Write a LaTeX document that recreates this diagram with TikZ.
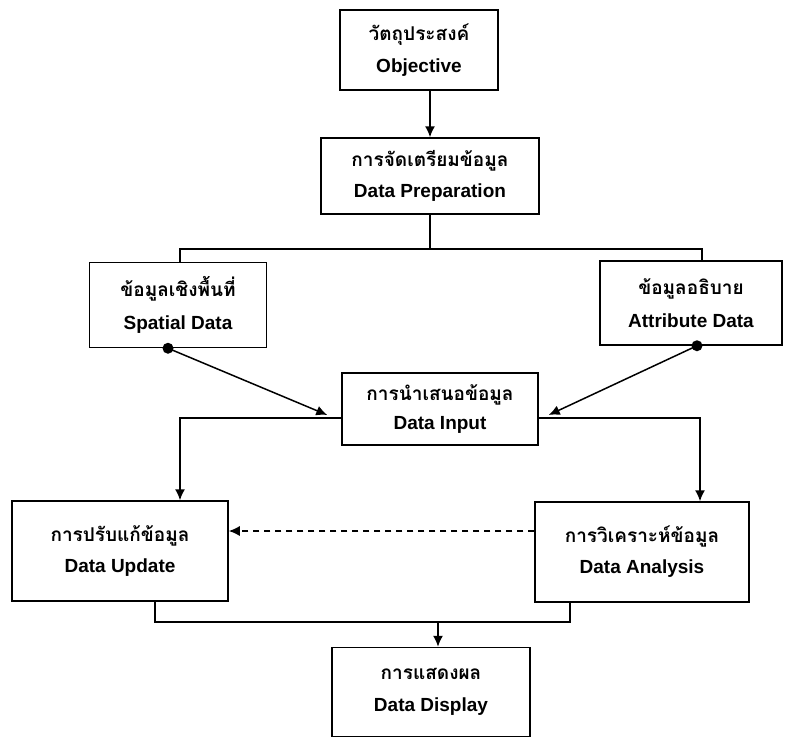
\documentclass[tikz,border=0pt]{standalone}
\usepackage{fontspec}
\setmainfont{Liberation Sans}
\newfontfamily\thai[Script=Thai]{Loma}
\usetikzlibrary{arrows.meta}

\tikzset{
  box/.style={draw, line width=1.5pt, align=center, inner sep=0pt,
    font=\fontsize{19}{22}\selectfont\bfseries},
  arr/.style={line width=1.5pt, -{Latex[length=11pt,width=10pt]}},
  link/.style={line width=1.5pt}
}

\begin{document}
\begin{tikzpicture}[x=1pt,y=-1pt]
\useasboundingbox (0,0) rectangle (804,739);

\node[box, minimum width=158pt, minimum height=80pt] (obj) at (419,50) {{\thai วัตถุประสงค์}\\[10pt]Objective};
\node[box, minimum width=218pt, minimum height=76pt] (prep) at (430,176) {{\thai การจัดเตรียมข้อมูล}\\[9pt]Data Preparation};
\node[box, minimum width=177pt, minimum height=85pt] (spat) at (178,305) {{\thai ข้อมูลเชิงพื้นที่}\\[11pt]Spatial Data};
\node[box, minimum width=182pt, minimum height=84pt] (attr) at (691,303) {{\thai ข้อมูลอธิบาย}\\[11pt]Attribute Data};
\node[box, minimum width=196pt, minimum height=72pt] (input) at (440,409) {{\thai การนำเสนอข้อมูล}\\[7pt]Data Input};
\node[box, minimum width=216pt, minimum height=100pt] (upd) at (120,551) {{\thai การปรับแก้ข้อมูล}\\[9pt]Data Update};
\node[box, minimum width=214pt, minimum height=100pt] (ana) at (642,552) {{\thai การวิเคราะห์ข้อมูล}\\[9pt]Data Analysis};
\node[box, minimum width=198pt, minimum height=89pt] (disp) at (431,692) {{\thai การแสดงผล}\\[10pt]Data Display};

\draw[arr] ([xshift=11pt]obj.south) -- (prep.north);

\coordinate (split) at (430,249);
\draw[link] (prep.south) -- (split);
\draw[link] ([xshift=2pt]spat.north) |- (split) -| ([xshift=11pt]attr.north);

\coordinate (sdot) at ([xshift=-10pt]spat.south);
\coordinate (adot) at ([xshift=6pt]attr.south);
\fill (sdot) circle (5.5pt);
\fill (adot) circle (5.5pt);
\draw[arr] (sdot) -- ([xshift=-14pt,yshift=-6pt]input.west);
\draw[arr] (adot) -- ([xshift=10pt,yshift=-6pt]input.east);

\draw[arr] ([yshift=-9pt]input.west) -| ([xshift=60pt]upd.north);
\draw[arr] ([yshift=-9pt]input.east) -| ([xshift=58pt]ana.north);

\draw[arr, dash pattern=on 6pt off 5pt] ([yshift=21pt]ana.west) -- ([yshift=21pt]ana.west -| upd.east);

\coordinate (bus) at (438,622);
\draw[link] ([xshift=35pt]upd.south) |- (bus) -| ([xshift=-72pt]ana.south);
\draw[arr] (bus) -- (bus |- disp.north);
\end{tikzpicture}
\end{document}
